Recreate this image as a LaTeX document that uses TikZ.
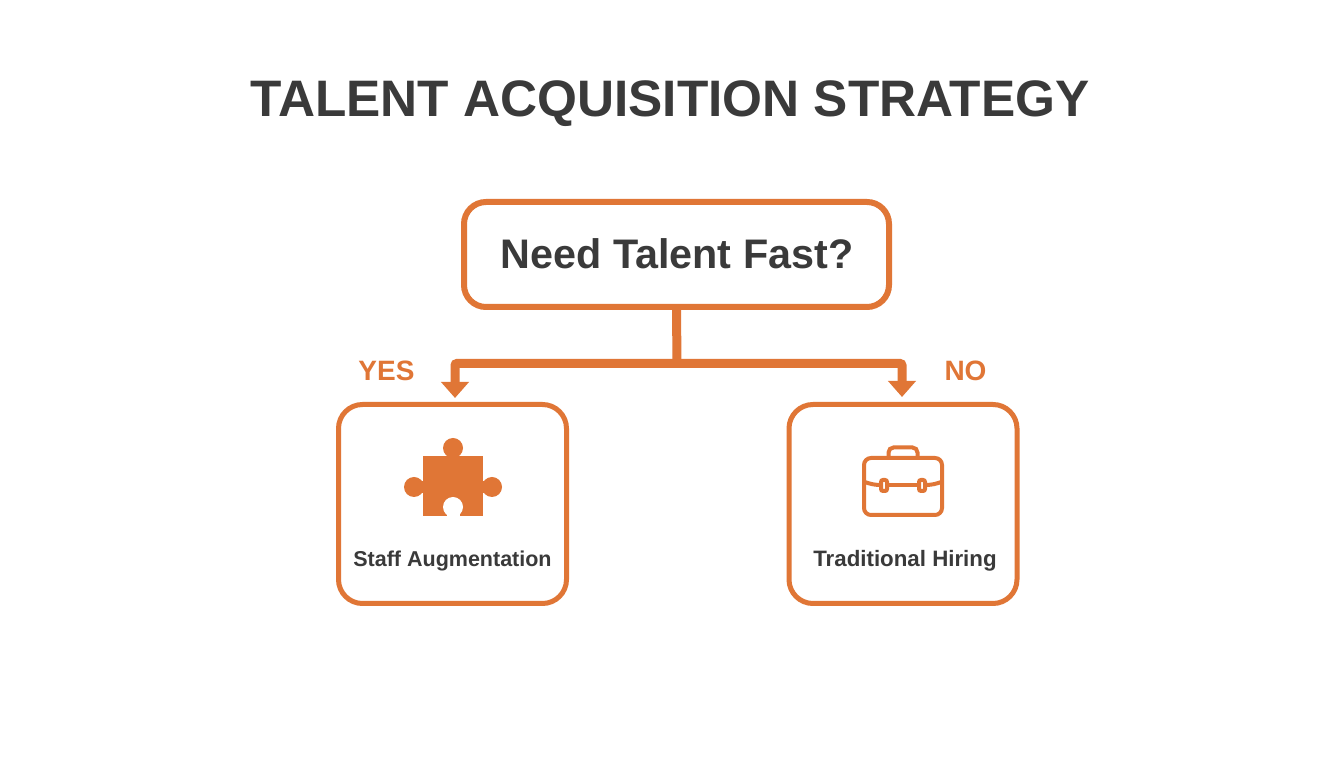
\documentclass[tikz,border=0pt]{standalone}
\usepackage{fontspec}
\setmainfont{Liberation Sans}
\usetikzlibrary{arrows.meta}
\definecolor{brandorange}{HTML}{E07636}
\definecolor{inkgrey}{HTML}{3A3A3A}
\tikzset{
  choicebox/.style={draw=brandorange,line width=5pt,rounded corners=24pt,fill=white,
    minimum width=228pt,minimum height=199pt,inner sep=0pt},
  labeltext/.style={text=inkgrey,font=\bfseries\fontsize{21.5}{24}\selectfont,inner sep=0pt},
  branchtext/.style={text=brandorange,font=\bfseries\fontsize{28}{30}\selectfont,inner sep=0pt},
  link/.style={draw=brandorange,line width=9pt,rounded corners=2pt},
  linkhead/.style={-{Triangle[width=27pt,length=16pt]},draw=brandorange,line width=9pt,rounded corners=2pt},
}
\newcommand\puzzleicon[2]{%
  \fill[brandorange] (#1-30, #2-31) rectangle +(60, 60);
  \fill[brandorange] (#1, #2+37) circle (10);
  \fill[brandorange] (#1-6, #2+27) rectangle +(12, 6);
  \fill[brandorange] (#1-39, #2-2) circle (10);
  \fill[brandorange] (#1-35, #2-8) rectangle +(6, 12);
  \fill[brandorange] (#1+39, #2-2) circle (10);
  \fill[brandorange] (#1+29, #2-8) rectangle +(6, 12);
  \fill[white] (#1, #2-22) circle (10);
  \fill[white] (#1-6.5, #2-31) rectangle +(13, 8);
}
\newcommand\caseicon[2]{%
  \draw[brandorange,line width=4pt,rounded corners=7pt] (#1-39, #2-28.5) rectangle +(78, 57);
  \draw[brandorange,line width=4pt,rounded corners=5pt] (#1-14.5, #2+28.5) -- +(0, 10.5) -- +(29, 10.5) -- +(29, 0);
  \draw[brandorange,line width=4pt] (#1-39, #2+4.8) .. controls (#1-33, #2+2.5) and (#1-29, #2+1.8) .. (#1-24, #2+1.5);
  \draw[brandorange,line width=4pt] (#1+39, #2+4.8) .. controls (#1+33, #2+2.5) and (#1+29, #2+1.8) .. (#1+24, #2+1.5);
  \draw[brandorange,line width=4pt] (#1-14, #2+1.5) -- +(28, 0);
  \draw[brandorange,line width=4pt,rounded corners=2pt] (#1-22, #2-4.5) rectangle +(6, 11);
  \draw[brandorange,line width=4pt,rounded corners=2pt] (#1+16, #2-4.5) rectangle +(6, 11);
}
\begin{document}
\begin{tikzpicture}[x=1pt,y=1pt]
  \useasboundingbox[fill=white] (0,0) rectangle (1344,768);

  % The title
  \node[text=inkgrey,font=\bfseries\fontsize{51.3}{54}\selectfont,inner sep=0pt] (title) at (670, 664) {TALENT ACQUISITION STRATEGY};

  % The question and the two answers
  \node[choicebox,line width=6pt,rounded corners=22pt,minimum width=425pt,minimum height=105pt] (need) at (676.5, 513.5) {};
  \node[text=inkgrey,font=\bfseries\fontsize{41.3}{44}\selectfont,inner sep=0pt] (needtext) at (677, 514) {Need Talent Fast?};
  \node[choicebox] (staff) at (452.5, 264) {};
  \node[choicebox] (hiring) at (903, 264) {};

  % The connectors
  \coordinate (split) at (677, 404.5);
  \coordinate (yesend) at (455, 370);
  \coordinate (noend) at (902, 371);
  \draw[link] (need.south) -- (split);
  \draw[linkhead] (split) -- (455, 404.5) -- (yesend);
  \draw[linkhead] (split) -- (902, 404.5) -- (noend);
  \node[branchtext] (yes) at (386.5, 397) {YES};
  \node[branchtext] (no) at (965.5, 397) {NO};

  % The icons
  \puzzleicon{453}{283}
  \caseicon{903}{281.5}

  % The captions
  \node[labeltext] (staffcap) at (452.5, 207) {Staff Augmentation};
  \node[labeltext] (hiringcap) at (905, 207) {\fontsize{22.3}{24}\selectfont Traditional Hiring};
\end{tikzpicture}
\end{document}
